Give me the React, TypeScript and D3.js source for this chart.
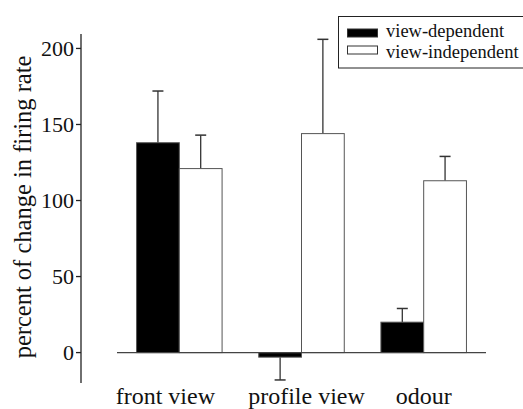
import React from 'react';
import * as d3 from 'd3';

const categories = ['front view', 'profile view', 'odour'];
const seriesNames = ['view-dependent', 'view-independent'];
const viewDependent = [138, -3, 20];
const viewDependentErr = [34, 15, 9];
const viewIndependent = [121, 144, 113];
const viewIndependentErr = [22, 62, 16];
const yTicks = [0, 50, 100, 150, 200];

const W = 523;
const H = 409;
const FONT = 'Liberation Serif';
// the category labels in the original sit a little off their group centres
const labelNudge = [-14, 5, 0];

const App = () => {
    const y = d3.scaleLinear().domain([-20, 209.5]).range([383, 34]);
    const x = d3.scaleBand().domain(categories).range([117, 486]).paddingInner(0.3).paddingOuter(0.16);
    const xs = d3.scaleBand().domain(seriesNames).range([0, x.bandwidth()]);
    const axisX = 81;

    const series = [
        { name: seriesNames[0], values: viewDependent, errs: viewDependentErr, fill: '#000' },
        { name: seriesNames[1], values: viewIndependent, errs: viewIndependentErr, fill: '#fff' }
    ];

    return (
        <svg width={W} height={H} style={{ position: 'absolute', left: 0, top: 0 }}>
            <rect width={W} height={H} fill="#fff" />

            {/* y axis */}
            <line x1={axisX} x2={axisX} y1={y(-20)} y2={y(209.5)} stroke="#222" strokeWidth={1.3} />
            {yTicks.map(t => (
                <g key={t}>
                    <line x1={axisX - 5} x2={axisX} y1={y(t)} y2={y(t)} stroke="#222" strokeWidth={1.3} />
                    <text x={axisX - 7} y={y(t) + 7.5} textAnchor="end" fontSize={22} fontFamily={FONT} fill="#111">{t}</text>
                </g>
            ))}
            <text transform={`translate(31, 207) rotate(-90)`} textAnchor="middle" fontSize={24.5} fontFamily={FONT} fill="#111">
                percent of change in firing rate
            </text>

            {/* bars */}
            {series.map(s => (
                <g key={s.name}>
                    {categories.map((c, i) => {
                        const v = s.values[i];
                        const bx = x(c) + xs(s.name);
                        const bw = xs.bandwidth();
                        const top = y(Math.max(v, 0));
                        const bottom = y(Math.min(v, 0));
                        const cx = bx + bw / 2;
                        const errEnd = v >= 0 ? y(v + s.errs[i]) : y(v - s.errs[i]);
                        const errStart = v >= 0 ? top : bottom;
                        return (
                            <g key={c}>
                                <line x1={cx} x2={cx} y1={errStart} y2={errEnd} stroke="#333" strokeWidth={1.3} />
                                <line x1={cx - 5.5} x2={cx + 5.5} y1={errEnd} y2={errEnd} stroke="#333" strokeWidth={1.5} />
                                <rect x={bx} y={top} width={bw} height={bottom - top} fill={s.fill} stroke="#555" strokeWidth={1} />
                            </g>
                        );
                    })}
                </g>
            ))}

            {/* zero line */}
            <line x1={x.range()[0]} x2={x.range()[1]} y1={y(0)} y2={y(0)} stroke="#444" strokeWidth={1.3} />

            {/* category labels */}
            {categories.map((c, i) => (
                <text key={c} x={x(c) + x.bandwidth() / 2 + labelNudge[i]} y={404} textAnchor="middle" fontSize={24} fontFamily={FONT} fill="#111">{c}</text>
            ))}

            {/* legend */}
            <rect x={338.5} y={16.5} width={200} height={51.5} fill="#fff" stroke="#222" strokeWidth={1} />
            {series.map((s, i) => (
                <g key={s.name}>
                    <rect x={347.5} y={29 + i * 17} width={30} height={8} fill={s.fill} stroke="#333" strokeWidth={1} />
                    <text x={386} y={37 + i * 20.5} fontSize={18.5} fontFamily={FONT} fill="#111">{s.name}</text>
                </g>
            ))}
        </svg>
    );
};

export default App;
